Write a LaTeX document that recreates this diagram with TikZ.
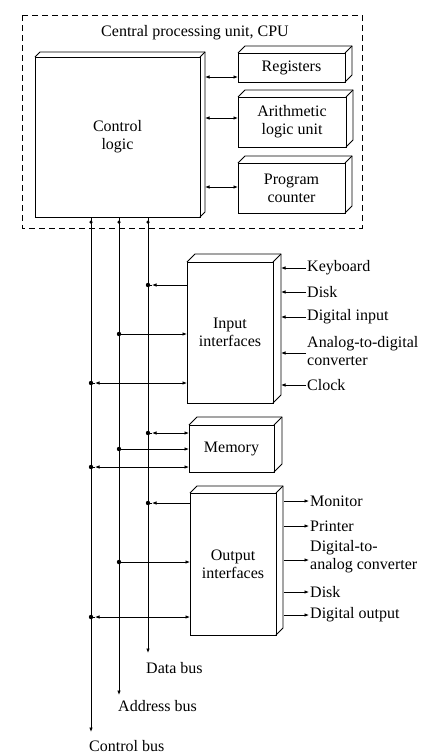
\documentclass[tikz,border=0pt]{standalone}
\usepackage{fontspec}
\setmainfont{Liberation Serif}
\usetikzlibrary{calc,arrows.meta}
\begin{document}
\begin{tikzpicture}[x=1pt,y=-1pt,
  every node/.style={font=\fontsize{16}{18}\selectfont},
  box/.style={draw, line width=0.8pt, inner sep=0pt, outer sep=0pt, anchor=north west, align=center},
  lbl/.style={inner sep=1pt, anchor=west, align=left},
  wire/.style={line width=0.8pt},
  tip/.style={-{Latex[length=4.5pt,width=3.6pt]}},
  tips/.style={{Latex[length=4.5pt,width=3.6pt]}-{Latex[length=4.5pt,width=3.6pt]}},
  jd/.style={circle, fill, inner sep=0pt, minimum size=4.4pt}]
\useasboundingbox (0,0) rectangle (432,755);
\newcommand\depthfaces[2]{%
  \draw[line width=0.8pt] (#1.north west) -- ($(#1.north west)+(#2,-#2)$) -- ($(#1.north east)+(#2,-#2)$) -- ($(#1.south east)+(#2,-#2)$) -- (#1.south east);
  \draw[line width=0.8pt] (#1.north east) -- ($(#1.north east)+(#2,-#2)$);}

% CPU frame
\draw[dashed, line width=0.8pt, dash pattern=on 6pt off 4pt] (22,15) rectangle (362,228);
\node (cputitle) at (195,33) {Central processing unit, CPU};

% boxes
\node[box, minimum width=165pt, minimum height=160pt] (cl) at (35,57) {Control\\logic};
\depthfaces{cl}{5}
\node[box, minimum width=107pt, minimum height=29pt] (reg) at (238,53) {Registers};
\depthfaces{reg}{7}
\node[box, minimum width=108pt, minimum height=50pt] (alu) at (238,97) {Arithmetic\\logic unit};
\depthfaces{alu}{7}
\node[box, minimum width=107pt, minimum height=50pt] (pc) at (238,163) {Program\\counter};
\depthfaces{pc}{7}
\node[box, minimum width=86pt, minimum height=141pt] (inp) at (187,262) {Input\\interfaces};
\depthfaces{inp}{8}
\node[box, minimum width=85pt, minimum height=47pt] (mem) at (189,425) {Memory};
\depthfaces{mem}{8}
\node[box, minimum width=86pt, minimum height=142pt] (outp) at (190,493) {Output\\interfaces};
\depthfaces{outp}{7}

% CPU internal connections
\draw[wire,tips] ([xshift=5pt]cl.east |- 0,77) -- (reg.west |- 0,77);
\draw[wire,tips] ([xshift=5pt]cl.east |- 0,118) -- (alu.west |- 0,118);
\draw[wire,tips] ([xshift=5pt]cl.east |- 0,187) -- (pc.west |- 0,187);

% buses
\coordinate (cbtop) at (91,217);
\coordinate (abtop) at (119,217);
\coordinate (dbtop) at (148,217);
\node[lbl, anchor=north west] (cblab) at (88,739) {Control bus};
\node[lbl, anchor=north west] (ablab) at (117,699) {Address bus};
\node[lbl, anchor=north west] (dblab) at (145,661) {Data bus};
\draw[wire,tip] (cbtop) -- (cbtop |- 0,732);
\draw[wire,tip] (abtop) -- (abtop |- 0,695);
\draw[wire,tip] (dbtop) -- (dbtop |- 0,653);
\foreach \c in {cbtop,abtop,dbtop} \node[jd, minimum size=3.5pt] at ($(\c)+(0,5)$) {};

% input interface bus connections
\draw[wire,tip,shorten >=4pt] (inp.west |- 0,285) -- (dbtop |- 0,285);
\node[jd] at (dbtop |- 0,285) {};
\draw[wire,tip] (abtop |- 0,334) -- (inp.west |- 0,334);
\node[jd] at (abtop |- 0,334) {};
\draw[wire,tips,shorten <=4pt] (cbtop |- 0,383) -- (inp.west |- 0,383);
\node[jd] at (cbtop |- 0,383) {};

% memory bus connections
\draw[wire,tips,shorten <=4pt] (dbtop |- 0,433) -- (mem.west |- 0,433);
\node[jd] at (dbtop |- 0,433) {};
\draw[wire,tip] (abtop |- 0,449) -- (mem.west |- 0,449);
\node[jd] at (abtop |- 0,449) {};
\draw[wire,tips,shorten <=4pt] (cbtop |- 0,467) -- (mem.west |- 0,467);
\node[jd] at (cbtop |- 0,467) {};

% output interface bus connections
\draw[wire,tip,shorten >=4pt] (outp.west |- 0,503) -- (dbtop |- 0,503);
\node[jd] at (dbtop |- 0,503) {};
\draw[wire,tip] (abtop |- 0,562) -- (outp.west |- 0,562);
\node[jd] at (abtop |- 0,562) {};
\draw[wire,tips,shorten <=4pt] (cbtop |- 0,617) -- (outp.west |- 0,617);
\node[jd] at (cbtop |- 0,617) {};
\draw[wire] (cbtop |- 0,617) -- ++(4,0);
\draw[wire] (cbtop |- 0,467) -- ++(4,0);
\draw[wire] (cbtop |- 0,383) -- ++(4,0);
\draw[wire] (dbtop |- 0,433) -- ++(4,0);
\draw[wire] (dbtop |- 0,285) -- ++(4,0);
\draw[wire] (dbtop |- 0,503) -- ++(4,0);

% input devices
\node[lbl] (kb) at (306,268) {Keyboard};
\node[lbl] (disk1) at (306,292) {Disk};
\node[lbl] (din) at (306,317) {Digital input};
\node[lbl] (adc) at (306,351) {Analog-to-digital\\converter};
\node[lbl] (clk) at (306,385) {Clock};
\foreach \n in {kb,disk1,din,clk}
  \draw[wire,tip] (\n.west) -- ([xshift=8pt]inp.east |- \n.west);
\draw[wire,tip] (adc.west |- 0,353) -- ([xshift=8pt]inp.east |- 0,353);

% output devices
\node[lbl] (mon) at (309,501) {Monitor};
\node[lbl] (prn) at (309,526) {Printer};
\node[lbl] (dac) at (309,557) {Digital-to-\\analog converter};
\node[lbl] (disk2) at (309,592) {Disk};
\node[lbl] (dout) at (309,615) {Digital output};
\foreach \n in {mon,prn,disk2,dout}
  \draw[wire,tip] ([xshift=8pt]outp.east |- \n.west) -- (\n.west);
\draw[wire,tip] ([xshift=8pt]outp.east |- 0,560) -- (dac.west |- 0,560);
\end{tikzpicture}
\end{document}
